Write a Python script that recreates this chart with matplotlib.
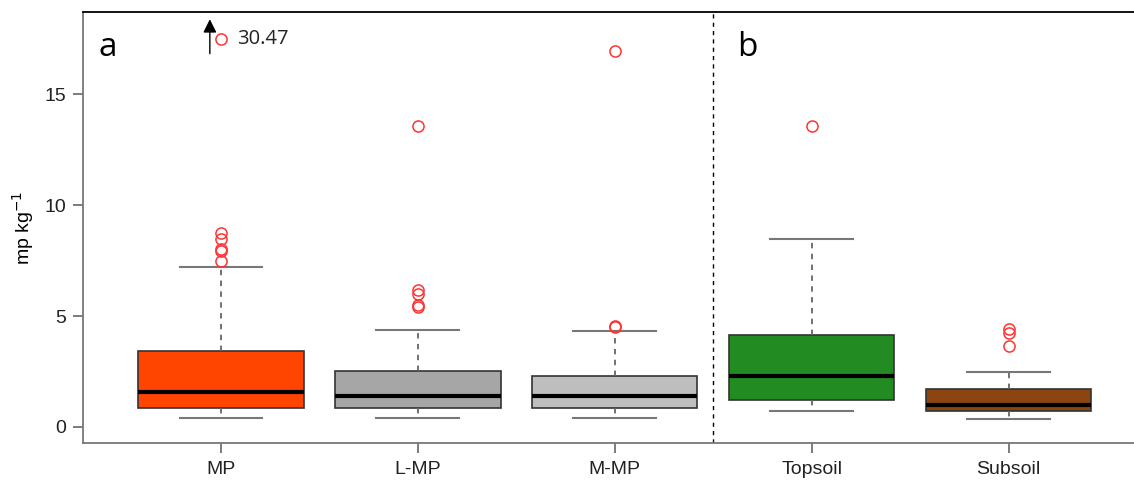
# boxplots of microplastic abundance, panels a and b
import matplotlib.pyplot as plt

plt.rcParams['font.family'] = ['Liberation Sans', 'DejaVu Sans']

# group names and box colours
groups = ['MP', 'L-MP', 'M-MP', 'Topsoil', 'Subsoil']
colors = ['#FF4500', '#A6A6A6', '#BEBEBE', '#228B22', '#8B4513']
# box statistics
q1 = [0.86, 0.86, 0.86, 1.22, 0.72]
med = [1.58, 1.40, 1.40, 2.30, 0.99]
q3 = [3.42, 2.52, 2.30, 4.14, 1.71]
whislo = [0.40, 0.40, 0.40, 0.72, 0.36]
whishi = [7.20, 4.37, 4.32, 8.47, 2.48]
# outliers (30.47 lies above the visible range)
fliers = [[7.48, 7.93, 8.02, 8.47, 8.74, 30.47],
          [5.40, 5.50, 5.99, 6.17, 13.56],
          [4.52, 4.55, 16.94],
          [13.56],
          [3.65, 4.23, 4.41]]
y_ticks = [0, 5, 10, 15]
big_value = 30.47
big_shown_at = 17.5

stats = []
for i in range(len(groups)):
    stats.append({'label': groups[i], 'q1': q1[i], 'med': med[i], 'q3': q3[i],
                  'whislo': whislo[i], 'whishi': whishi[i], 'fliers': fliers[i]})

fig = plt.figure(figsize=(11.34, 4.82), dpi=100)
ax = fig.add_axes([0.0732, 0.081, 0.95, 0.894])

bp = ax.bxp(stats, positions=range(1, 6), widths=0.84, patch_artist=True,
            showfliers=True,
            boxprops=dict(edgecolor='#333333', linewidth=1.2),
            medianprops=dict(color='black', linewidth=3),
            whiskerprops=dict(color='#666666', linestyle=(0, (3, 3)), linewidth=1.3),
            capprops=dict(color='#777777', linewidth=1.5),
            flierprops=dict(marker='o', markerfacecolor='none', markeredgecolor='#FF3333',
                            markersize=8, markeredgewidth=1.1))
for patch, c in zip(bp['boxes'], colors):
    patch.set_facecolor(c)
for cap in bp['caps']:
    x0, x1 = cap.get_xdata()
    m = (x0 + x1) / 2
    cap.set_xdata([m - 0.21, m + 0.21])

ax.set_xlim(0.30, 5.77)
ax.set_ylim(-0.72, 18.7)
ax.set_yticks(y_ticks)
ax.set_xticks(range(1, 6))
ax.set_xticklabels(groups)
ax.tick_params(axis='both', colors='#666666', labelcolor='#222222', labelsize=14,
               length=7, width=1.2)
ax.tick_params(axis='x', pad=6)
ax.tick_params(axis='y', pad=5)
ax.spines['right'].set_visible(False)
ax.spines['left'].set_color('#777777')
ax.spines['bottom'].set_color('#777777')
ax.spines['left'].set_linewidth(1.3)
ax.spines['bottom'].set_linewidth(1.3)
ax.spines['top'].set_color('black')
ax.spines['top'].set_linewidth(1.3)
ax.set_ylabel('mp kg$^{-1}$', fontsize=14, labelpad=6)

# separator between panel a and b
ax.axvline(3.5, color='black', linestyle=(0, (3, 3)), linewidth=1)

# arrow for the outlier beyond the axis
ax.annotate('', xy=(0.944, 18.5), xytext=(0.944, 16.7),
            arrowprops=dict(arrowstyle='-|>', color='black', lw=1, mutation_scale=20))
ax.plot([1], [big_shown_at], marker='o', markerfacecolor='none', markeredgecolor='#FF3333',
        markersize=8, markeredgewidth=1.1)
ax.text(1.08, big_shown_at, f'{big_value:.2f}', fontsize=14.5, family='Open Sans',
        va='center', ha='left', color='#222222')

ax.text(0.38, 17.1, 'a', fontsize=24, family='Open Sans', va='center')
ax.text(3.62, 17.1, 'b', fontsize=24, family='Open Sans', va='center')

fig.savefig('out.png', dpi=100)
